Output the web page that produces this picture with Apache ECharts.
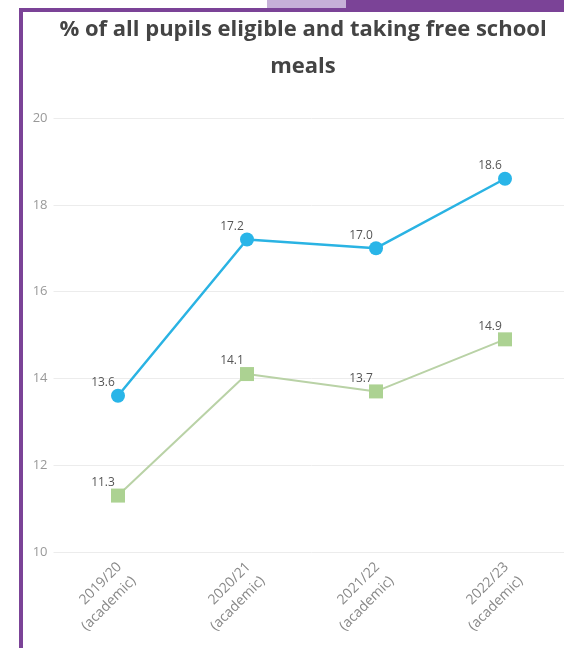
<!DOCTYPE html>
<html>
<head>
<meta charset="utf-8">
<script src="https://cdn.jsdelivr.net/npm/echarts@6/dist/echarts.min.js"></script>
<style>
html,body{margin:0;padding:0;background:#fff;overflow:hidden;width:564px;height:648px;}
#chart{width:600px;height:648px;}
</style>
</head>
<body>
<div id="chart"></div>
<script>
var categories = ['2019/20\n(academic)', '2020/21\n(academic)', '2021/22\n(academic)', '2022/23\n(academic)'];
var seriesBlue = [13.6, 17.2, 17.0, 18.6];
var seriesGreen = [11.3, 14.1, 13.7, 14.9];
var yMin = 10, yMax = 20, yStep = 2;
var titleText = '% of all pupils eligible and taking free school\nmeals';

var chart = echarts.init(document.getElementById('chart'), null, {renderer: 'canvas'});
var labelCfg = {
  show: true, position: 'top', distance: 0, offset: [-15, 0],
  color: '#555', fontSize: 12, fontFamily: 'Open Sans',
  formatter: function (p) { return p.value.toFixed(1); }
};
chart.setOption({
  backgroundColor: '#fff',
  animation: false,
  textStyle: {fontFamily: 'Open Sans'},
  graphic: [
    {type: 'rect', shape: {x: 267, y: 0, width: 79, height: 9}, style: {fill: '#c6b0d8'}, silent: true},
    {type: 'rect', shape: {x: 346, y: 0, width: 254, height: 9}, style: {fill: '#7b4397'}, silent: true},
    {type: 'rect', shape: {x: 19, y: 8, width: 581, height: 4}, style: {fill: '#7b4397'}, silent: true},
    {type: 'rect', shape: {x: 19, y: 8, width: 4, height: 640}, style: {fill: '#7b4397'}, silent: true}
  ],
  title: {
    text: titleText,
    left: 298, top: 6, textAlign: 'center',
    textStyle: {fontSize: 22, fontWeight: 'bold', color: '#444', lineHeight: 37, fontFamily: 'Open Sans'}
  },
  grid: {left: 53.5, width: 516, top: 118, height: 434, containLabel: false},
  xAxis: {
    type: 'category', data: categories, boundaryGap: true,
    axisLine: {show: false}, axisTick: {show: false},
    axisLabel: {rotate: 45, verticalAlign: 'top', padding: [0, 8, 0, 0], color: '#888', fontSize: 14, lineHeight: 20, margin: 0, interval: 0, fontFamily: 'Open Sans'}
  },
  yAxis: {
    type: 'value', min: yMin, max: yMax, interval: yStep,
    axisLine: {show: false}, axisTick: {show: false},
    axisLabel: {color: '#999', fontSize: 13, margin: 6, fontFamily: 'Open Sans'},
    splitLine: {lineStyle: {color: '#ececec', width: 1}}
  },
  series: [
    {
      name: 'Blue', type: 'line', data: seriesBlue,
      symbol: 'circle', symbolSize: 14,
      lineStyle: {color: '#2ab3e3', width: 2.5},
      itemStyle: {color: '#29b5e8'},
      label: labelCfg, z: 3
    },
    {
      name: 'Green', type: 'line', data: seriesGreen,
      symbol: 'rect', symbolSize: 14,
      lineStyle: {color: '#b9d2a6', width: 2},
      itemStyle: {color: '#acd292'},
      label: labelCfg, z: 2
    }
  ]
});
</script>
</body>
</html>
